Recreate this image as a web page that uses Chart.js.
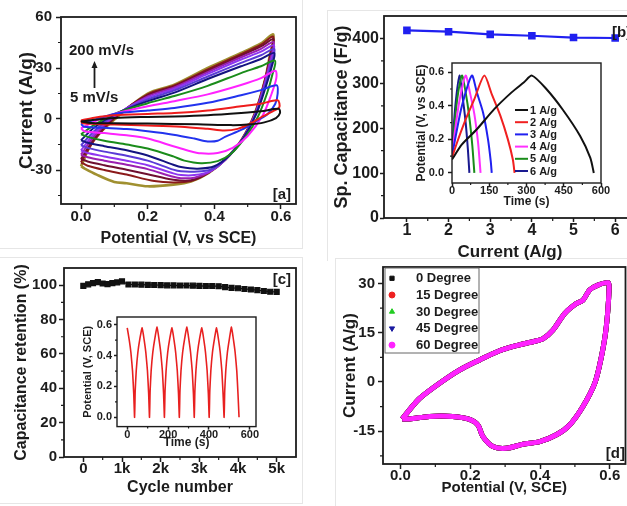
<!DOCTYPE html>
<html>
<head>
<meta charset="utf-8">
<script src="https://cdn.jsdelivr.net/npm/chart.js@4.4.1/dist/chart.umd.min.js"></script>
<style>
  html, body { margin: 0; padding: 0; background: #fff; }
  body { width: 627px; height: 506px; overflow: hidden; position: relative; }
  canvas { position: absolute; left: 0; top: 0; }
  .edge { position: absolute; border: 1px solid #e6e6e6; }
</style>
</head>
<body>
<div class="edge" style="left:-2px;top:-2px;width:303px;height:249px;"></div>
<div class="edge" style="left:327px;top:10px;width:320px;height:250px;border-bottom:none;"></div>
<div class="edge" style="left:-2px;top:257px;width:303px;height:245px;"></div>
<div class="edge" style="left:335px;top:258px;width:320px;height:260px;"></div>
<canvas id="panelA" width="627" height="506"></canvas>
<canvas id="panelB" width="660" height="506"></canvas>
<canvas id="insetB" width="627" height="506"></canvas>
<canvas id="panelC" width="627" height="506"></canvas>
<canvas id="insetC" width="627" height="506"></canvas>
<canvas id="panelD" width="627" height="506"></canvas>
<script>
// ---------- data ----------
// [a] CV curves, potential (V) / current (A/g), one loop per scan rate
const scanRates = [5, 10, 20, 30, 40, 50, 75, 100, 125, 150, 175, 200];
const cv5 = [[0,-1.5],[0.04,-0.5],[0.1,0.6],[0.2,1.2],[0.28,1.5],[0.38,2.2],[0.48,3.5],[0.54,4.5],[0.593,6],[0.597,3.5],[0.585,0.5],[0.55,-2],[0.5,-3.3],[0.45,-3.6],[0.35,-3.1],[0.2,-2.7],[0.1,-2.5],[0.03,-2.4],[0,-1.5]];
const cv10 = [[0,-0.8],[0.04,0.8],[0.1,2.2],[0.2,3],[0.28,3.5],[0.38,5],[0.48,7.5],[0.54,9],[0.59,11],[0.595,7],[0.575,4.5],[0.545,1.5],[0.51,-2.5],[0.47,-5.8],[0.43,-6.8],[0.38,-5.8],[0.3,-4.5],[0.2,-3.8],[0.1,-3.3],[0.03,-2.8],[0.004,-2.4],[0,-0.8]];
const cv20 = [[0,-3],[0.04,-0.5],[0.1,3],[0.2,5],[0.28,6.5],[0.38,9.5],[0.48,14],[0.54,17],[0.587,19.8],[0.59,15],[0.583,9],[0.56,3],[0.532,-0.5],[0.482,-6.3],[0.432,-10.5],[0.41,-12.8],[0.38,-13.2],[0.34,-11.5],[0.277,-9.2],[0.2,-7.2],[0.137,-5.9],[0.07,-5.2],[0.01,-4.6],[0,-3]];
const cv30 = [[0,-5.5],[0.04,-1.5],[0.1,3],[0.2,7.5],[0.28,10.5],[0.38,14.5],[0.48,20],[0.54,24],[0.583,28.4],[0.586,24],[0.572,15],[0.545,2],[0.5,-10],[0.455,-17],[0.41,-20],[0.36,-20.2],[0.32,-18.5],[0.277,-16],[0.2,-11.5],[0.137,-9.6],[0.07,-8.3],[0.01,-7.2],[0,-5.5]];
const cv40 = [[0,-9],[0.04,-3.5],[0.1,3],[0.2,9.3],[0.28,13.5],[0.38,19.5],[0.48,27],[0.54,31],[0.582,34.3],[0.574,26],[0.558,15],[0.53,1],[0.492,-11],[0.45,-20.5],[0.41,-24.8],[0.36,-26],[0.31,-24.5],[0.277,-22],[0.2,-17.3],[0.137,-15],[0.07,-12.8],[0.02,-10.5],[0,-9]];
const cv50 = [[0,-12.5],[0.04,-5],[0.1,2.6],[0.2,10.5],[0.28,15.5],[0.38,23.5],[0.48,31],[0.54,35.3],[0.58,38.8],[0.571,30],[0.556,20],[0.526,3],[0.488,-11],[0.445,-21.5],[0.4,-27.8],[0.35,-29.2],[0.3,-28.3],[0.277,-26.9],[0.2,-21.5],[0.137,-18.4],[0.07,-16],[0.02,-14],[0,-12.5]];
const cv75 = [[0,-15.5],[0.04,-7],[0.1,2.2],[0.2,11.5],[0.28,16.8],[0.38,25],[0.48,33],[0.54,37.5],[0.58,41.2],[0.57,32],[0.555,21.5],[0.525,3.2],[0.486,-11.5],[0.437,-23],[0.39,-29.7],[0.34,-31],[0.3,-30.8],[0.277,-29.8],[0.2,-24.5],[0.137,-21.6],[0.07,-19.2],[0.02,-17],[0,-15.5]];
const cv100 = [[0,-18.5],[0.04,-8.5],[0.1,1.8],[0.2,12.5],[0.28,17.8],[0.38,26.5],[0.48,35],[0.54,39.6],[0.579,43.3],[0.569,33.5],[0.554,22],[0.524,3.3],[0.485,-11.8],[0.435,-23.5],[0.387,-30.8],[0.34,-33],[0.3,-33],[0.277,-32],[0.2,-27.2],[0.137,-24.5],[0.07,-22],[0.02,-20],[0,-18.5]];
const cv125 = [[0,-21],[0.04,-10],[0.1,1.3],[0.2,13.3],[0.28,18.6],[0.38,27.6],[0.48,36.3],[0.54,41.3],[0.578,45.3],[0.568,35],[0.553,22.5],[0.523,3.4],[0.484,-12],[0.434,-23.8],[0.385,-31.2],[0.34,-34.5],[0.3,-34.8],[0.277,-34],[0.2,-29.5],[0.137,-26.9],[0.07,-24.5],[0.02,-22.5],[0,-21]];
const cv150 = [[0,-23.5],[0.04,-11.5],[0.1,0.8],[0.2,14],[0.28,19.2],[0.38,28.4],[0.48,37.3],[0.54,42.7],[0.578,47],[0.567,36],[0.552,22.8],[0.523,3.5],[0.483,-12.1],[0.433,-23.9],[0.383,-31.5],[0.33,-36],[0.277,-35.7],[0.2,-32.5],[0.137,-29.8],[0.07,-27.2],[0.02,-25],[0,-23.5]];
const cv175 = [[0,-25.5],[0.04,-12.5],[0.1,0.3],[0.2,14.5],[0.28,19.7],[0.38,29.2],[0.48,38.1],[0.54,43.7],[0.577,48.5],[0.567,37],[0.552,23],[0.522,3.5],[0.482,-12.2],[0.432,-24],[0.382,-31.7],[0.33,-36.5],[0.277,-37.3],[0.22,-36.5],[0.137,-32.7],[0.07,-30],[0.02,-27.5],[0,-25.5]];
const cv200 = [[0,-27.8],[0.037,-12.5],[0.1,-0.3],[0.2,15],[0.28,20.2],[0.38,30],[0.48,38.8],[0.54,44.5],[0.577,49.7],[0.566,37],[0.552,23],[0.522,3.5],[0.482,-12.2],[0.432,-24],[0.382,-31.8],[0.33,-36.8],[0.277,-38.6],[0.2,-39.6],[0.137,-37.8],[0.1,-37],[0.047,-32.7],[0.01,-29],[0,-27.8]];
const cvCurves = [cv5, cv10, cv20, cv30, cv40, cv50, cv75, cv100, cv125, cv150, cv175, cv200];

// [b] specific capacitance vs current density
const bCurrent = [1, 2, 3, 4, 5, 6];
const bCapacitance = [418, 415, 409, 406, 402, 401];

// [b] inset: charge/discharge, time (s) / potential (V)
const gcdLabels = ['1 A/g', '2 A/g', '3 A/g', '4 A/g', '5 A/g', '6 A/g'];
const gcd1 = [[0,0.08],[40,0.17],[100,0.26],[170,0.38],[240,0.48],[290,0.54],[322,0.58],[380,0.5],[447,0.375],[516,0.22],[557,0.09],[571,0]];
const gcd2 = [[0,0.09],[20,0.18],[50,0.3],[90,0.44],[130,0.58],[160,0.47],[195,0.34],[225,0.2],[245,0.08],[252,0]];
const gcd3 = [[0,0.1],[15,0.22],[40,0.4],[80,0.58],[100,0.48],[125,0.36],[145,0.2],[156,0.07],[160,0]];
const gcd4 = [[0,0.1],[12,0.25],[30,0.43],[55,0.58],[72,0.48],[90,0.35],[105,0.18],[115,0]];
const gcd5 = [[0,0.1],[10,0.28],[22,0.45],[40,0.58],[55,0.48],[70,0.33],[82,0.16],[90,0]];
const gcd6 = [[0,0.1],[8,0.3],[17,0.45],[30,0.58],[42,0.46],[55,0.3],[64,0.14],[70,0]];
const gcdCurves = [gcd1, gcd2, gcd3, gcd4, gcd5, gcd6];

// [c] capacitance retention vs cycle number
const cCycles = [0,125,250,375,500,625,750,875,1000,1167,1333,1500,1667,1833,2000,2167,2333,2500,2667,2833,3000,3167,3333,3500,3667,3833,4000,4167,4333,4500,4667,4833,5000];
const cRetention = [99.6,100.5,101.2,101.8,101.0,100.6,101.2,101.6,102.2,100.4,100.4,100.3,100.2,100.1,100.0,99.9,99.9,99.8,99.8,99.7,99.6,99.5,99.5,99.4,98.9,98.4,98.2,97.8,97.5,97.1,96.6,96.2,96.1];

// [c] inset: repeated charge/discharge cycles
const cycleTrace = [[0,0.58],[10,0.5],[18,0.42],[26,0.3],[32,0.15],[36,0],[39,0.17],[44,0.3],[52,0.42],[62,0.51],[73,0.58],
  [83,0.5],[91,0.42],[99,0.3],[105,0.15],[109,0],[112,0.17],[117,0.3],[125,0.42],[135,0.51],[146,0.585],
  [156,0.5],[164,0.42],[172,0.3],[178,0.15],[182,0],[185,0.17],[190,0.3],[198,0.42],[208,0.51],[219,0.58],
  [229,0.5],[237,0.42],[245,0.3],[251,0.15],[255,0],[258,0.17],[263,0.3],[271,0.42],[281,0.51],[292,0.585],
  [302,0.5],[310,0.42],[318,0.3],[324,0.15],[328,0],[331,0.17],[336,0.3],[344,0.42],[354,0.51],[365,0.58],
  [375,0.5],[383,0.42],[391,0.3],[397,0.15],[401,0],[404,0.17],[409,0.3],[417,0.42],[427,0.51],[437,0.58],
  [447,0.5],[455,0.42],[463,0.3],[469,0.15],[474,0],[477,0.17],[482,0.3],[490,0.42],[500,0.51],[510,0.585],
  [520,0.5],[528,0.42],[536,0.3],[542,0.15],[547,0]];

// [d] CV at different bending angles (curves coincide)
const bendLabels = ['0 Degree', '15 Degree', '30 Degree', '45 Degree', '60 Degree'];
const dPotential = [0.005,0.03,0.055,0.112,0.169,0.227,0.284,0.341,0.385,0.408,0.437,0.471,0.504,0.523,0.542,0.566,0.595,0.598,0.59,0.576,0.557,0.523,0.485,0.447,0.399,0.351,0.303,0.265,0.236,0.222,0.198,0.15,0.083,0.026,0.005];
const dCurrent = [-11.3,-8,-5,-0.4,3.6,6.7,9.5,11.3,12.4,13.1,15.8,20.9,23.9,24.9,28,29.5,30.2,28.5,16.8,7.7,-0.4,-7.5,-13.1,-16.1,-18.2,-19,-20.2,-19.7,-16.6,-13.1,-11.4,-10.5,-10.5,-11.3,-11.3];

// tick values
const aTicksX = [0, 0.2, 0.4, 0.6], aMinorX = [0.1, 0.3, 0.5];
const aTicksY = [-30, 0, 30, 60], aMinorY = [-45, -15, 15, 45];
const bTicksX = [1, 2, 3, 4, 5, 6], bMinorX = [1.5, 2.5, 3.5, 4.5, 5.5];
const bTicksY = [0, 100, 200, 300, 400], bMinorY = [50, 150, 250, 350];
const biTicksX = [0, 150, 300, 450, 600], biMinorX = [75, 225, 375, 525];
const biTicksY = [0, 0.2, 0.4, 0.6], biMinorY = [0.1, 0.3, 0.5];
const cTicksX = [0, 1000, 2000, 3000, 4000, 5000], cMinorX = [500, 1500, 2500, 3500, 4500];
const cTicksY = [0, 20, 40, 60, 80, 100], cMinorY = [10, 30, 50, 70, 90];
const ciTicksX = [0, 200, 400, 600], ciMinorX = [100, 300, 500];
const ciTicksY = [0, 0.2, 0.4, 0.6], ciMinorY = [0.1, 0.3, 0.5];
const dTicksX = [0, 0.2, 0.4, 0.6], dMinorX = [0.1, 0.3, 0.5];
const dTicksY = [-15, 0, 15, 30], dMinorY = [-22.5, -7.5, 7.5, 22.5];

// ---------- styling ----------
const INK = '#1c1c1c';
const FONT = '"Liberation Sans", Arial, sans-serif';
const scanColors = ['#111111', '#ee1c1c', '#2233ee', '#ff22ff', '#1a8c1a', '#141480', '#5a3bd6', '#8e35f0', '#9b1fb0', '#6e1030', '#8b1a1a', '#a09030'];
const gcdColors = ['#111111', '#f02020', '#2020f0', '#ff30ff', '#1a8c1a', '#1a1a90'];

Chart.defaults.font.family = FONT;
Chart.defaults.font.weight = 'bold';
Chart.defaults.color = INK;
Chart.defaults.animation = false;
Chart.defaults.responsive = false;
Chart.defaults.events = [];
Chart.defaults.plugins.legend.display = false;
Chart.defaults.plugins.tooltip.enabled = false;

// box round the plot + small minor ticks
const framePlugin = {
    id: 'frame',
    afterDraw(chart, args, o) {
        const { ctx, chartArea: a } = chart;
        const xs = chart.scales.x, ys = chart.scales.y;
        ctx.save();
        ctx.strokeStyle = INK;
        ctx.lineWidth = o.width || 1.6;
        ctx.strokeRect(a.left, a.top, a.right - a.left, a.bottom - a.top);
        ctx.lineWidth = 1.2;
        ctx.beginPath();
        (o.minorX || []).forEach(v => {
            const p = xs.getPixelForValue(v);
            ctx.moveTo(p, a.bottom); ctx.lineTo(p, a.bottom + (o.minor || 3));
        });
        (o.minorY || []).forEach(v => {
            const p = ys.getPixelForValue(v);
            ctx.moveTo(a.left, p); ctx.lineTo(a.left - (o.minor || 3), p);
        });
        ctx.stroke();
        ctx.restore();
    }
};

// free text and arrows
const notesPlugin = {
    id: 'notes',
    afterDraw(chart, args, o) {
        const ctx = chart.ctx;
        ctx.save();
        ctx.fillStyle = INK;
        ctx.strokeStyle = INK;
        ctx.textBaseline = 'middle';
        (o.items || []).forEach(n => {
            ctx.font = 'bold ' + n.size + 'px ' + FONT;
            ctx.textAlign = n.align || 'left';
            ctx.fillText(n.text, n.x, n.y);
        });
        (o.arrows || []).forEach(a => {
            ctx.lineWidth = 1.8;
            ctx.beginPath();
            ctx.moveTo(a.x, a.y0); ctx.lineTo(a.x, a.y1 + 5);
            ctx.stroke();
            ctx.beginPath();
            ctx.moveTo(a.x, a.y1); ctx.lineTo(a.x - 3, a.y1 + 7); ctx.lineTo(a.x + 3, a.y1 + 7);
            ctx.closePath();
            ctx.fill();
        });
        ctx.restore();
    }
};

// legend drawn inside the plot
const keyPlugin = {
    id: 'key',
    afterDraw(chart, args, o) {
        if (o.x === undefined) return;
        const ctx = chart.ctx;
        ctx.save();
        if (o.box) {
            ctx.strokeStyle = '#666';
            ctx.lineWidth = 1;
            ctx.strokeRect(o.box[0], o.box[1], o.box[2], o.box[3]);
        }
        ctx.font = 'bold ' + o.size + 'px ' + FONT;
        ctx.textBaseline = 'middle';
        ctx.textAlign = 'left';
        chart.data.datasets.forEach((ds, i) => {
            const y = o.y + i * o.row;
            if (o.mode === 'line') {
                ctx.strokeStyle = ds.borderColor;
                ctx.lineWidth = 2;
                ctx.beginPath();
                ctx.moveTo(o.x, y); ctx.lineTo(o.x + o.len, y);
                ctx.stroke();
            } else {
                ctx.fillStyle = ds.borderColor;
                ctx.strokeStyle = ds.borderColor;
                Chart.helpers.drawPoint(ctx, { pointStyle: ds.pointStyle, radius: 3, rotation: ds.pointRotation || 0, borderWidth: 1 }, o.x, y);
            }
            ctx.fillStyle = INK;
            ctx.fillText(ds.label, o.tx, y + 0.5);
        });
        ctx.restore();
    }
};

Chart.register(framePlugin, notesPlugin, keyPlugin);

function axis(pos, o) {
    return {
        type: 'linear',
        position: pos,
        min: o.min,
        max: o.max,
        grid: { drawOnChartArea: false, drawTicks: true, tickLength: o.tl, tickWidth: 1.5, color: INK },
        border: { display: false },
        ticks: {
            autoSkip: false, maxRotation: 0, padding: o.pad,
            font: { size: o.font, weight: 'bold' }, color: INK,
            callback: o.fmt || (v => String(v))
        },
        title: { display: true, text: o.title, font: { size: o.tf, weight: 'bold' }, color: INK, padding: 0 },
        afterBuildTicks: s => { s.ticks = o.ticks.map(v => ({ value: v })); },
        afterFit: s => { if (pos === 'left') s.width = o.size; else s.height = o.size; }
    };
}

// area: plot box and title centres in page pixels
function panel(id, area, xAx, yAx, datasets, plugins) {
    const yLeft = area.yTitleX - yAx.tf * 0.6;
    const xBottom = area.xTitleY + xAx.tf * 0.6;
    yAx.size = area.l - yLeft;
    xAx.size = xBottom - area.b;
    const canvas = document.getElementById(id);
    return new Chart(canvas, {
        type: 'scatter',
        data: { datasets: datasets },
        options: {
            layout: { padding: { left: yLeft, top: area.t, right: canvas.width - area.r, bottom: canvas.height - xBottom } },
            scales: { x: axis('bottom', xAx), y: axis('left', yAx) },
            plugins: plugins
        }
    });
}

const pairs = arr => arr.map(p => ({ x: p[0], y: p[1] }));
const oneDecimal = v => v.toFixed(1);

// ---------- [a] ----------
panel('panelA',
    { l: 61, t: 17, r: 296, b: 204, yTitleX: 27, xTitleY: 239 },
    { min: -0.06, max: 0.645, ticks: aTicksX, tl: 5, pad: -1, font: 15, title: 'Potential (V, vs SCE)', tf: 16, fmt: oneDecimal },
    { min: -50, max: 60, ticks: aTicksY, tl: 5, pad: 4, font: 15, title: 'Current (A/g)', tf: 19 },
    cvCurves.map((c, i) => ({
        label: scanRates[i] + ' mV/s', data: pairs(c), showLine: true,
        borderColor: scanColors[i], borderWidth: i === 11 ? 2.6 : 2, pointRadius: 0, tension: 0.3
    })),
    {
        frame: { minorX: aMinorX, minorY: aMinorY, width: 1.8 },
        notes: {
            items: [
                { text: '200 mV/s', x: 69, y: 51, size: 15 },
                { text: '5 mV/s', x: 70, y: 98, size: 15 },
                { text: '[a]', x: 291, y: 195, size: 15, align: 'right' }
            ],
            arrows: [{ x: 94.5, y0: 88, y1: 61 }]
        }
    });

// ---------- [b] ----------
panel('panelB',
    { l: 384, t: 16, r: 636, b: 218, yTitleX: 342, xTitleY: 252 },
    { min: 0.45, max: 6.5, ticks: bTicksX, tl: 4, pad: -1.5, font: 16, title: 'Current (A/g)', tf: 17 },
    { min: 0, max: 450, ticks: bTicksY, tl: 4, pad: 1, font: 16, title: 'Sp. Capacitance (F/g)', tf: 18 },
    [{
        label: 'Sp. Capacitance', data: bCurrent.map((x, i) => ({ x: x, y: bCapacitance[i] })), showLine: true,
        borderColor: '#2020f0', backgroundColor: '#2020f0', borderWidth: 2.2,
        pointStyle: 'rect', pointRadius: 3.8, tension: 0
    }],
    {
        frame: { minorX: bMinorX, minorY: bMinorY, width: 1.8 },
        notes: { items: [{ text: '[b]', x: 612, y: 33, size: 15 }] }
    });

panel('insetB',
    { l: 452, t: 63, r: 601, b: 183, yTitleX: 421.7, xTitleY: 201.5 },
    { min: 0, max: 600, ticks: biTicksX, tl: 4, pad: -3, font: 11, title: 'Time (s)', tf: 12 },
    { min: -0.06, max: 0.655, ticks: biTicksY, tl: 4, pad: 4, font: 11, title: 'Potential (V, vs SCE)', tf: 12, fmt: oneDecimal },
    gcdCurves.map((c, i) => ({
        label: gcdLabels[i], data: pairs(c), showLine: true,
        borderColor: gcdColors[i], borderWidth: 2, pointRadius: 0, tension: 0.25
    })),
    {
        frame: { minorX: biMinorX, minorY: biMinorY, width: 1.4, minor: 2 },
        key: { mode: 'line', x: 515, len: 13, tx: 530, y: 110, row: 12.2, size: 11 }
    });

// ---------- [c] ----------
panel('panelC',
    { l: 64, t: 268, r: 296, b: 457, yTitleX: 22, xTitleY: 488 },
    { min: -500, max: 5500, ticks: cTicksX, tl: 5, pad: -2.5, font: 15, title: 'Cycle number', tf: 16, fmt: v => v === 0 ? '0' : (v / 1000) + 'k' },
    { min: 0, max: 110, ticks: cTicksY, tl: 5, pad: 2, font: 15, title: 'Capacitance retention (%)', tf: 16 },
    [{
        label: 'Retention', data: cCycles.map((x, i) => ({ x: x, y: cRetention[i] })), showLine: true,
        borderColor: '#111', backgroundColor: '#111', borderWidth: 1.2,
        pointStyle: 'rect', pointRadius: 3.5, tension: 0
    }],
    {
        frame: { minorX: cMinorX, minorY: cMinorY, width: 1.8 },
        notes: { items: [{ text: '[c]', x: 291, y: 280, size: 15, align: 'right' }] }
    });

panel('insetC',
    { l: 117, t: 317, r: 256, b: 426.6, yTitleX: 88.3, xTitleY: 443 },
    { min: -50, max: 630, ticks: ciTicksX, tl: 3, pad: -1.5, font: 11, title: 'Time (s)', tf: 12 },
    { min: -0.06, max: 0.65, ticks: ciTicksY, tl: 3, pad: 2, font: 11, title: 'Potential (V, SCE)', tf: 11, fmt: oneDecimal },
    [{
        label: 'Cycling', data: pairs(cycleTrace), showLine: true,
        borderColor: '#e82020', borderWidth: 1.6, pointRadius: 0, tension: 0.15
    }],
    {
        frame: { minorX: ciMinorX, minorY: ciMinorY, width: 1.4, minor: 2 }
    });

// ---------- [d] ----------
const bendStyles = [
    { color: '#111111', point: 'rect', rot: 0 },
    { color: '#ee2020', point: 'circle', rot: 0 },
    { color: '#22cc22', point: 'triangle', rot: 0 },
    { color: '#1a1aa0', point: 'triangle', rot: 180 },
    { color: '#ff22ff', point: 'circle', rot: 0 }
];
panel('panelD',
    { l: 383, t: 267, r: 625.5, b: 464, yTitleX: 350, xTitleY: 488 },
    { min: -0.05, max: 0.645, ticks: dTicksX, tl: 5, pad: -2, font: 15, title: 'Potential (V, SCE)', tf: 15, fmt: oneDecimal },
    { min: -25, max: 35, ticks: dTicksY, tl: 5, pad: 3, font: 15, title: 'Current (A/g)', tf: 17 },
    bendLabels.map((lab, i) => ({
        label: lab, data: dPotential.map((x, j) => ({ x: x, y: dCurrent[j] })), showLine: true,
        borderColor: bendStyles[i].color, borderWidth: 5, pointRadius: 0,
        pointStyle: bendStyles[i].point, pointRotation: bendStyles[i].rot,
        tension: 0.3, order: i === 4 ? 0 : 1
    })),
    {
        frame: { minorX: dMinorX, minorY: dMinorY, width: 1.8 },
        key: { mode: 'point', x: 392, tx: 416, y: 278.3, row: 16.7, size: 13, box: [385, 268, 94, 85] },
        notes: { items: [{ text: '[d]', x: 625, y: 454, size: 15, align: 'right' }] }
    });
</script>
</body>
</html>
